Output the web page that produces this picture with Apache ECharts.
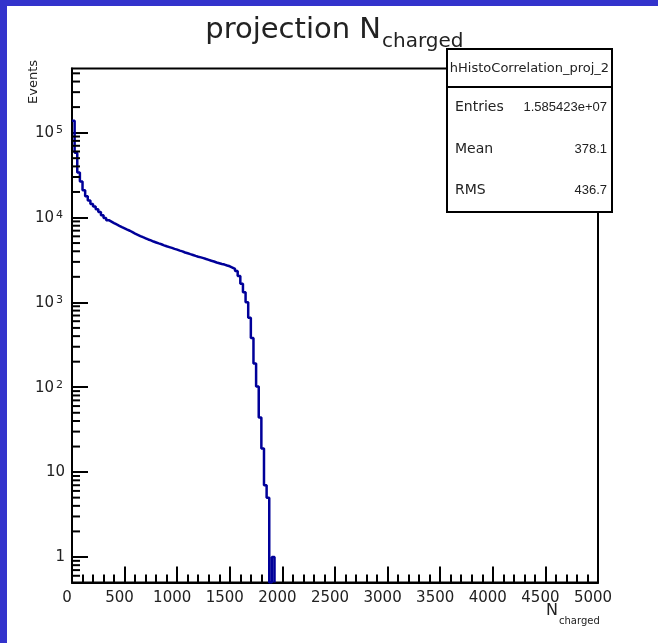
<!DOCTYPE html>
<html><head><meta charset="utf-8">
<script src="https://cdn.jsdelivr.net/npm/echarts@6/dist/echarts.min.js"></script>
<style>html,body{margin:0;padding:0;background:#fff}#c{width:658px;height:643px}</style>
</head><body><div id="c"></div>
<script>
// ---- data ----
const binWidth = 25;
const xRange = [0, 5000];
const yRange = [0.5, 5.7e5];
const xTickLabels = ['0','500','1000','1500','2000','2500','3000','3500','4000','4500','5000'];
const counts = [
 138000, 58000, 34000, 26500, 21000, 17800, 15900, 14400, 13500, 12500,
 11600, 10600, 9850, 9300, 8950, 8600, 8280, 7980, 7700, 7450,
 7200, 6980, 6720, 6470, 6260, 6050, 5860, 5690, 5510, 5380,
 5210, 5080, 4950, 4840, 4700, 4580, 4480, 4380, 4270, 4180,
 4070, 3990, 3870, 3790, 3700, 3620, 3530, 3450, 3390, 3320,
 3240, 3170, 3090, 3030, 2950, 2890, 2830, 2790, 2720, 2660,
 2570, 2480, 2340, 2040, 1660, 1320, 1000, 660, 380, 190,
 102, 44, 19, 7, 5, 0, 1
];
const statNames = ['Entries', 'Mean', 'RMS'];
const statValues = ['1.585423e+07', '378.1', '436.7'];
const histName = 'hHistoCorrelation_proj_2';

// ---- build ----
const FONT = 'DejaVu Sans';
const NUMFONT = 'Liberation Sans';
const TXT = '#222';
const lineData = [];
counts.forEach((c, i) => lineData.push([xRange[0] + i * binWidth, c > 0 ? c : yRange[0]]));
const lastEdge = xRange[0] + counts.length * binWidth;
const lastC = counts[counts.length - 1];
lineData.push([lastEdge, lastC > 0 ? lastC : yRange[0]]);
lineData.push([lastEdge, yRange[0]]);

// minor log ticks (2..9 x 10^k) inside the range
const minorTicks = [];
for (let k = Math.floor(Math.log10(yRange[0])); k <= Math.ceil(Math.log10(yRange[1])); k++) {
  for (let m = 2; m <= 9; m++) {
    const v = m * Math.pow(10, k);
    if (v > yRange[0] && v < yRange[1]) minorTicks.push([0, v]);
  }
}

const chart = echarts.init(document.getElementById('c'), null, {renderer: 'canvas'});
const boxX = 447, boxY = 49, boxW = 165, boxH = 163, sepY = 87;
const rowY = [107, 149, 190];
const graphics = [
  {type: 'rect', shape: {x: 0, y: 0, width: 7, height: 643}, style: {fill: '#3333cc'}, silent: true},
  {type: 'rect', shape: {x: 0, y: 0, width: 658, height: 6}, style: {fill: '#3333cc'}, silent: true},
  {type: 'text', x: 381, y: 30, style: {text: 'projection N', font: '29px "' + FONT + '"', fill: TXT, align: 'right', verticalAlign: 'middle'}},
  {type: 'text', x: 382, y: 42, style: {text: 'charged', font: '20px "' + FONT + '"', fill: TXT, align: 'left', verticalAlign: 'middle'}},
  {type: 'text', x: 558, y: 611, style: {text: 'N', font: '16px "' + FONT + '"', fill: TXT, align: 'right', verticalAlign: 'middle'}},
  {type: 'text', x: 559, y: 621, style: {text: 'charged', font: '10px "' + FONT + '"', fill: TXT, align: 'left', verticalAlign: 'middle'}},
  {type: 'text', x: 34, y: 82, rotation: Math.PI / 2, style: {text: 'Events', font: '13px "' + FONT + '"', fill: TXT, align: 'center', verticalAlign: 'middle'}},
  {type: 'rect', z: 10, shape: {x: boxX, y: boxY, width: boxW, height: boxH}, style: {fill: '#fff', stroke: '#000', lineWidth: 2}},
  {type: 'line', z: 11, shape: {x1: boxX, y1: sepY, x2: boxX + boxW, y2: sepY}, style: {stroke: '#000', lineWidth: 2}},
  {type: 'text', z: 12, x: boxX + boxW / 2, y: (boxY + sepY) / 2 + 1, style: {text: histName, font: '13px "' + FONT + '"', fill: TXT, align: 'center', verticalAlign: 'middle'}}
];
statNames.forEach((n, i) => {
  graphics.push({type: 'text', z: 12, x: boxX + 8, y: rowY[i], style: {text: n, font: '14px "' + FONT + '"', fill: TXT, align: 'left', verticalAlign: 'middle'}});
  graphics.push({type: 'text', z: 12, x: boxX + boxW - 5, y: rowY[i], style: {text: statValues[i], font: '13px "' + NUMFONT + '"', fill: TXT, align: 'right', verticalAlign: 'middle'}});
});

chart.setOption({
  animation: false,
  backgroundColor: '#fff',
  grid: {left: 72, top: 68.5, right: 60, bottom: 60.5, show: true, borderColor: '#000', borderWidth: 2, containLabel: false},
  xAxis: {
    type: 'value', min: xRange[0], max: xRange[1], interval: 500,
    axisLine: {show: true, lineStyle: {color: '#000', width: 2}},
    axisTick: {show: true, inside: true, length: 16, lineStyle: {color: '#000', width: 2}},
    minorTick: {show: true, splitNumber: 5, length: 8, lineStyle: {color: '#000', width: 2}},
    splitLine: {show: false},
    axisLabel: {margin: 8, padding: [0, 10, 0, 0], fontFamily: FONT, fontSize: 15, color: TXT,
      formatter: v => xTickLabels[Math.round((v - xRange[0]) / 500)] || ''}
  },
  yAxis: {
    type: 'log', logBase: 10, min: yRange[0], max: yRange[1],
    axisLine: {show: true, lineStyle: {color: '#000', width: 2}},
    axisTick: {show: true, inside: true, length: 16, lineStyle: {color: '#000', width: 2}},
    splitLine: {show: false},
    axisLabel: {
      margin: 7, fontFamily: FONT, fontSize: 15, color: TXT,
      showMinLabel: false, showMaxLabel: false,
      formatter: v => {
        const l = Math.log10(v), e = Math.round(l);
        if (Math.abs(l - e) > 1e-6) return '';
        if (e === 0) return '1';
        if (e === 1) return '10';
        return '{b|10}{s|' + e + '}';
      },
      rich: {
        b: {fontFamily: FONT, fontSize: 15, color: TXT, lineHeight: 16, padding: [8, 0, 0, 0], verticalAlign: 'bottom'},
        s: {fontFamily: FONT, fontSize: 11, color: TXT, lineHeight: 16, padding: [0, 2, 0, 2], verticalAlign: 'top'}
      }
    }
  },
  graphic: graphics,
  series: [
    {
      type: 'line', step: 'end', data: lineData, symbol: 'none', clip: true,
      lineStyle: {color: '#000099', width: 2.5}, z: 3
    },
    {
      type: 'custom', data: minorTicks, clip: false, silent: true, z: 4,
      renderItem: (params, api) => {
        const p = api.coord([api.value(0), api.value(1)]);
        return {type: 'line', shape: {x1: p[0], y1: p[1], x2: p[0] + 8, y2: p[1]}, style: {stroke: '#000', lineWidth: 2}};
      }
    }
  ]
});
</script></body></html>
